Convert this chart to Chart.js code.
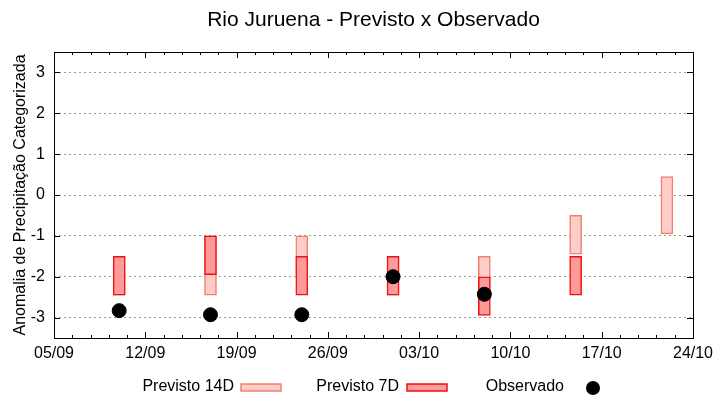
<!DOCTYPE html>
<html>
<head>
<meta charset="utf-8">
<script src="https://cdn.jsdelivr.net/npm/chart.js@4.4.1/dist/chart.umd.min.js"></script>
<style>
html, body { margin: 0; padding: 0; background: #fff; }
#wrap { width: 720px; height: 400px; position: relative; }
</style>
</head>
<body>
<div id="wrap"><canvas id="chart"></canvas></div>
<script>
// dados
const startDate = '05/09';
const tickLabels = ['05/09', '12/09', '19/09', '26/09', '03/10', '10/10', '17/10', '24/10'];
const yTicks = [-3, -2, -1, 0, 1, 2, 3];

const forecastDates = ['10/09', '17/09', '24/09', '01/10', '08/10', '15/10', '22/10'];
const prev14Low  = [-2.45, -2.45, -1.95, -2.45, -2.45, -1.45, -0.95];
const prev14High = [-1.5, -1, -1, -1.5, -1.5, -0.5, 0.45];
const prev7Low   = [-2.45, -1.95, -2.45, -2.45, -2.95, -2.45, null];
const prev7High  = [-1.5, -1, -1.5, -1.5, -2, -1.5, null];

const obsDates  = ['10/09', '17/09', '24/09', '01/10', '08/10'];
const obsValues = [-2.83, -2.93, -2.93, -2.0, -2.43];

const FONT = 'Liberation Sans, Arial, sans-serif';
const YEAR = 2024;

// converte 'dd/mm' em dias desde a data inicial
function dayOffset(s) {
    const p = s.split('/');
    const s0 = startDate.split('/');
    const t = Date.UTC(YEAR, +p[1] - 1, +p[0]);
    const t0 = Date.UTC(YEAR, +s0[1] - 1, +s0[0]);
    return Math.round((t - t0) / 86400000);
}
function dayLabel(v) {
    const s0 = startDate.split('/');
    const d = new Date(Date.UTC(YEAR, +s0[1] - 1, +s0[0]) + v * 86400000);
    const dd = String(d.getUTCDate()).padStart(2, '0');
    const mm = String(d.getUTCMonth() + 1).padStart(2, '0');
    return dd + '/' + mm;
}

const tickDays = tickLabels.map(dayOffset);

function rangeData(dates, lows, highs) {
    const out = [];
    dates.forEach((d, i) => {
        if (lows[i] === null || highs[i] === null) return;
        out.push({ x: dayOffset(d), y: [lows[i], highs[i]] });
    });
    return out;
}

const colors = {
    p14Fill: '#ffcdc8',
    p14Border: '#f08070',
    p7Fill: '#ff9a9a',
    p7Border: '#ee1111'
};

// moldura, marcas internas, título e legenda no estilo gnuplot
const gnuplotStyle = {
    id: 'gnuplotStyle',
    afterDraw(chart) {
        const ctx = chart.ctx;
        const a = chart.chartArea;
        const xs = chart.scales.x;
        const ys = chart.scales.y;
        ctx.save();
        ctx.strokeStyle = '#000';
        ctx.lineWidth = 1;

        // marcas do eixo y (esquerda e direita)
        ctx.beginPath();
        yTicks.forEach(v => {
            const y = Math.round(ys.getPixelForValue(v)) + 0.5;
            ctx.moveTo(a.left, y); ctx.lineTo(a.left + 6, y);
            ctx.moveTo(a.right, y); ctx.lineTo(a.right - 6, y);
        });
        // marcas do eixo x (baixo e cima), maiores e menores
        for (let i = 0; i < tickDays.length; i++) {
            const x = Math.round(xs.getPixelForValue(tickDays[i])) + 0.5;
            ctx.moveTo(x, a.bottom); ctx.lineTo(x, a.bottom - 6);
            ctx.moveTo(x, a.top); ctx.lineTo(x, a.top + 6);
            if (i < tickDays.length - 1) {
                const step = (tickDays[i + 1] - tickDays[i]) / 5;
                for (let k = 1; k < 5; k++) {
                    const mx = Math.round(xs.getPixelForValue(tickDays[i] + k * step)) + 0.5;
                    ctx.moveTo(mx, a.bottom); ctx.lineTo(mx, a.bottom - 3);
                    ctx.moveTo(mx, a.top); ctx.lineTo(mx, a.top + 3);
                }
            }
        }
        ctx.stroke();
        ctx.strokeRect(Math.round(a.left) + 0.5, Math.round(a.top) + 0.5,
            Math.round(a.right - a.left), Math.round(a.bottom - a.top));

        // título
        ctx.fillStyle = '#000';
        ctx.font = '21px ' + FONT;
        ctx.textAlign = 'center';
        ctx.textBaseline = 'middle';
        ctx.fillText('Rio Juruena - Previsto x Observado', (a.left + a.right) / 2, 20);

        // legenda
        ctx.font = '16px ' + FONT;
        ctx.textAlign = 'right';
        const ly = 387;
        ctx.fillText('Previsto 14D', 234, ly);
        ctx.fillStyle = colors.p14Fill;
        ctx.fillRect(241, 384, 40, 7);
        ctx.strokeStyle = colors.p14Border;
        ctx.lineWidth = 1.5;
        ctx.strokeRect(241, 384, 40, 7);

        ctx.fillStyle = '#000';
        ctx.fillText('Previsto 7D', 399, ly);
        ctx.fillStyle = colors.p7Fill;
        ctx.fillRect(407, 384, 40, 7);
        ctx.strokeStyle = colors.p7Border;
        ctx.strokeRect(407, 384, 40, 7);

        ctx.fillStyle = '#000';
        ctx.fillText('Observado', 564, ly);
        ctx.beginPath();
        ctx.arc(593, 388, 7, 0, Math.PI * 2);
        ctx.fill();
        ctx.restore();
    }
};

new Chart(document.getElementById('chart'), {
    type: 'bar',
    data: {
        datasets: [
            {
                type: 'scatter',
                label: 'Observado',
                data: obsDates.map((d, i) => ({ x: dayOffset(d), y: obsValues[i] })),
                backgroundColor: '#000',
                borderColor: '#000',
                pointRadius: 7,
                pointHoverRadius: 7,
                order: 0
            },
            {
                label: 'Previsto 7D',
                data: rangeData(forecastDates, prev7Low, prev7High),
                backgroundColor: colors.p7Fill,
                borderColor: colors.p7Border,
                borderWidth: 1.5,
                borderSkipped: false,
                barThickness: 12,
                grouped: false,
                order: 1
            },
            {
                label: 'Previsto 14D',
                data: rangeData(forecastDates, prev14Low, prev14High),
                backgroundColor: colors.p14Fill,
                borderColor: colors.p14Border,
                borderWidth: 1.5,
                borderSkipped: false,
                barThickness: 12,
                grouped: false,
                order: 2
            }
        ]
    },
    options: {
        responsive: true,
        maintainAspectRatio: false,
        animation: false,
        layout: { padding: { left: 0, right: 27, top: 52, bottom: 0 } },
        plugins: {
            legend: { display: false },
            title: { display: false },
            tooltip: { enabled: false }
        },
        scales: {
            x: {
                type: 'linear',
                min: 0,
                max: 49,
                offset: false,
                grid: { display: false, offset: false, drawTicks: false },
                border: { display: false },
                afterBuildTicks: s => { s.ticks = tickDays.map(v => ({ value: v })); },
                afterFit: s => { s.height = 62; },
                ticks: {
                    color: '#000',
                    font: { family: FONT, size: 16 },
                    padding: 6,
                    maxRotation: 0,
                    autoSkip: false,
                    callback: v => dayLabel(v)
                }
            },
            y: {
                min: -3.5,
                max: 3.5,
                grid: {
                    color: '#999',
                    lineWidth: 1,
                    drawTicks: false
                },
                border: { display: false, dash: [2, 3] },
                afterBuildTicks: s => { s.ticks = yTicks.map(v => ({ value: v })); },
                afterFit: s => { s.width = 54; },
                ticks: {
                    color: '#000',
                    font: { family: FONT, size: 16 },
                    padding: 9
                },
                title: {
                    display: true,
                    text: 'Anomalia de Precipitação Categorizada',
                    color: '#000',
                    font: { family: FONT, size: 16 },
                    padding: { top: 11, bottom: 0 }
                }
            }
        }
    },
    plugins: [gnuplotStyle]
});
</script>
</body>
</html>
